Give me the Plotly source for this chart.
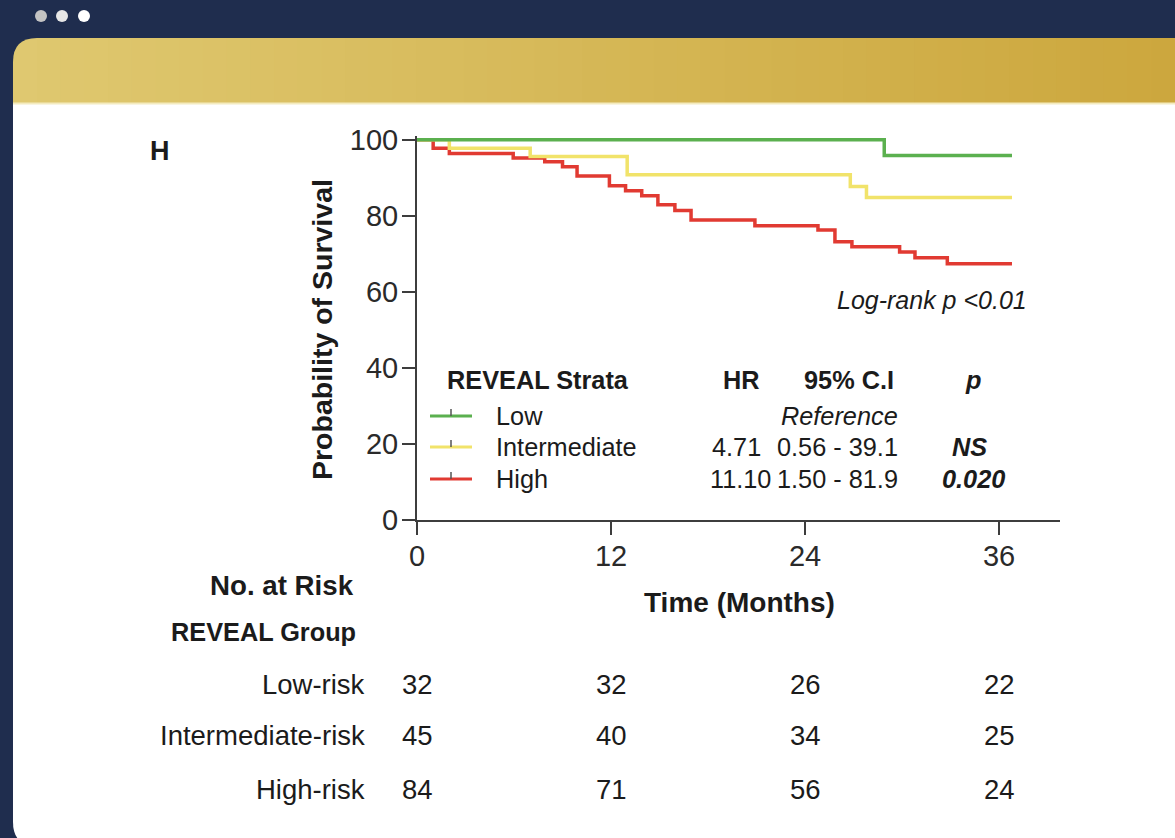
import plotly.graph_objects as go

# ---- Kaplan-Meier step data (months, % surviving) ----
low_t = [0, 28.9, 36.8]
low_s = [100, 95.9, 95.9]

int_t = [0, 2.0, 7.0, 13.0, 26.8, 27.8, 36.8]
int_s = [100, 97.8, 95.6, 90.8, 87.7, 84.8, 84.8]

high_t = [0, 1.0, 2.0, 5.95, 7.9, 9.0, 9.9, 11.9, 12.9, 13.9, 14.9, 15.95,
          16.95, 20.9, 24.8, 25.85, 26.9, 29.85, 30.8, 32.8, 36.8]
high_s = [100, 97.8, 96.4, 95.2, 94.2, 92.9, 90.5, 87.9, 86.6, 85.3, 82.9, 81.4,
          78.9, 77.4, 76.3, 73.2, 71.9, 70.5, 69.0, 67.4, 67.4]

x_ticks = [0, 12, 24, 36]
y_ticks = [0, 20, 40, 60, 80, 100]

# ---- numbers at risk ----
risk_groups = ["Low-risk", "Intermediate-risk", "High-risk"]
risk_low = [32, 32, 26, 22]
risk_int = [45, 40, 34, 25]
risk_high = [84, 71, 56, 24]

# ---- hazard ratio table ----
strata = ["Low", "Intermediate", "High"]
hr_vals = ["", "4.71", "11.10"]
ci_vals = ["", "0.56 - 39.1", "1.50 - 81.9"]
p_vals = ["", "NS", "0.020"]

GREEN = "#5bb04f"
YELLOW = "#f1e36a"
RED = "#e13a32"
NAVY = "#1f2d4e"
INK = "#1b1b1b"
FONT = "Liberation Sans, Arial, Helvetica, sans-serif"

W, H = 1175, 838


def px(x):
    return x / W


def py(y):
    return 1 - y / H


def path(cmds):
    out = []
    for c in cmds:
        if isinstance(c, str):
            out.append(c)
        else:
            out.append(f"{px(c[0]):.5f},{py(c[1]):.5f}")
    return " ".join(out)


fig = go.Figure()

for t, s, col in [(high_t, high_s, RED), (int_t, int_s, YELLOW), (low_t, low_s, GREEN)]:
    fig.add_trace(go.Scatter(x=t, y=s, mode="lines",
                             line=dict(shape="hv", color=col, width=3.5),
                             showlegend=False, hoverinfo="skip"))

shapes = []
r = 24
# gold header band with rounded top-left corner
shapes.append(dict(type="path", xref="paper", yref="paper", layer="below",
                   path=path(["M", (13, 104), "L", (13, 38 + r), "Q", (13, 38), (13 + r, 38),
                              "L", (W, 38), "L", (W, 104), "Z"]),
                   fillcolor="#dfc870", line=dict(width=0)))


def lerp_col(c0, c1, f):
    a = [int(c0[i:i + 2], 16) for i in (1, 3, 5)]
    b = [int(c1[i:i + 2], 16) for i in (1, 3, 5)]
    return "#" + "".join(f"{round(a[k] + (b[k] - a[k]) * f):02x}" for k in range(3))


n_strips = 48
x_start = 13 + r
sw = (W - x_start) / n_strips
for i in range(n_strips):
    xa = x_start + i * sw
    f = (xa + sw / 2 - 13) / (W - 13)
    shapes.append(dict(type="rect", xref="paper", yref="paper", layer="below",
                       x0=px(xa), x1=px(min(W, xa + sw + 1)), y0=py(104), y1=py(38),
                       fillcolor=lerp_col("#dfc870", "#cca73d", f), line=dict(width=0)))

# white card body
shapes.append(dict(type="path", xref="paper", yref="paper", layer="below",
                   path=path(["M", (13, 103), "L", (W, 103), "L", (W, 846), "L", (13 + r, 846),
                              "Q", (13, 846), (13, 846 - r), "Z"]),
                   fillcolor="#ffffff", line=dict(width=0)))
shapes.append(dict(type="line", xref="paper", yref="paper", layer="below",
                   x0=px(13), x1=px(W), y0=py(103.5), y1=py(103.5),
                   line=dict(color="#f4ebbf", width=2)))

# window dots
for cx, col in [(41, "#c3c3c3"), (62, "#e6e6e6"), (84, "#ffffff")]:
    shapes.append(dict(type="circle", xref="paper", yref="paper", layer="below",
                       x0=px(cx - 6), x1=px(cx + 6), y0=py(22), y1=py(10),
                       fillcolor=col, line=dict(width=0)))

# legend keys with censor tick
leg_rows = [416, 447, 479]
for yy, col in zip(leg_rows, [GREEN, YELLOW, RED]):
    shapes.append(dict(type="line", xref="paper", yref="paper",
                       x0=px(430), x1=px(472), y0=py(yy), y1=py(yy),
                       line=dict(color=col, width=3)))
    shapes.append(dict(type="line", xref="paper", yref="paper",
                       x0=px(451), x1=px(451), y0=py(yy), y1=py(yy - 7),
                       line=dict(color="#555555", width=1.5)))

ann = []


def text(s, x, y, size, anchor="left", color=INK, xref="paper"):
    ann.append(dict(text=s, x=(x if xref != "paper" else px(x)), y=py(y),
                    xref=xref, yref="paper", showarrow=False, xanchor=anchor,
                    yanchor="middle", font=dict(family=FONT, size=size, color=color)))


LS = 25.3  # legend / table text size
text("<b>H</b>", 148, 151, 27)
text("<i>Log-rank p &lt;0.01</i>", 1029, 300, 25, "right")

# hazard table
text("<b>REVEAL Strata</b>", 445, 380, LS)
text("<b>HR</b>", 741, 380, LS, "center")
text("<b>95% C.I</b>", 849, 380, LS, "center")
text("<b><i>p</i></b>", 973, 380, LS, "center")
for i, yy in enumerate(leg_rows):
    text(strata[i], 494, yy, LS)
text("<i>Reference</i>", 900, leg_rows[0], LS, "right")
text(hr_vals[1], 763, leg_rows[1], LS, "right")
text(hr_vals[2], 773, leg_rows[2], LS, "right")
text(ci_vals[1], 900, leg_rows[1], LS, "right")
text(ci_vals[2], 900, leg_rows[2], LS, "right")
text(f"<b><i>{p_vals[1]}</i></b>", 969, leg_rows[1], LS, "center")
text(f"<b><i>{p_vals[2]}</i></b>", 973, leg_rows[2], LS, "center")

# axis titles
ann.append(dict(text="<b>Probability of Survival</b>", x=px(322), y=py(330), xref="paper",
                yref="paper", showarrow=False, textangle=-90, xanchor="center",
                yanchor="middle", font=dict(family=FONT, size=28.5, color=INK)))
text("<b>Time (Months)</b>", 739, 602, 28, "center")

# numbers at risk
text("<b>No. at Risk</b>", 356, 585, 27.7, "right")
text("<b>REVEAL Group</b>", 358, 632, 25.3, "right")
risk_rows = [684, 735, 789]
for name, vals, yy in zip(risk_groups, [risk_low, risk_int, risk_high], risk_rows):
    text(name, 367, yy, 27.5, "right")
    for xv, v in zip(x_ticks, vals):
        text(str(v), xv, yy, 27.5, "center", xref="x")

axis_common = dict(showgrid=False, zeroline=False, showline=True, linecolor="#3d3d3d",
                   linewidth=2, ticks="outside", ticklen=13, tickwidth=2, tickcolor="#3d3d3d",
                   tickfont=dict(family=FONT, size=29, color="#2a2a2a"), fixedrange=True,
                   automargin=False)

fig.update_layout(
    width=W, height=H, autosize=False,
    margin=dict(l=0, r=0, t=0, b=0, pad=0, autoexpand=False),
    paper_bgcolor=NAVY, plot_bgcolor="rgba(0,0,0,0)",
    showlegend=False,
    xaxis=dict(domain=[px(417), px(1060)], range=[0, 39.77], tickvals=x_ticks,
               ticklabelstandoff=-4, **axis_common),
    yaxis=dict(domain=[py(520), py(136)], range=[0, 101], tickvals=y_ticks,
               ticklabelstandoff=-2, **axis_common),
    shapes=shapes, annotations=ann,
)

# remove the default page margin so the figure sits flush in the window
fig.write_html("out.html", config={"displayModeBar": False},
               post_script="document.body.style.margin='0';document.body.style.overflow='hidden';")
